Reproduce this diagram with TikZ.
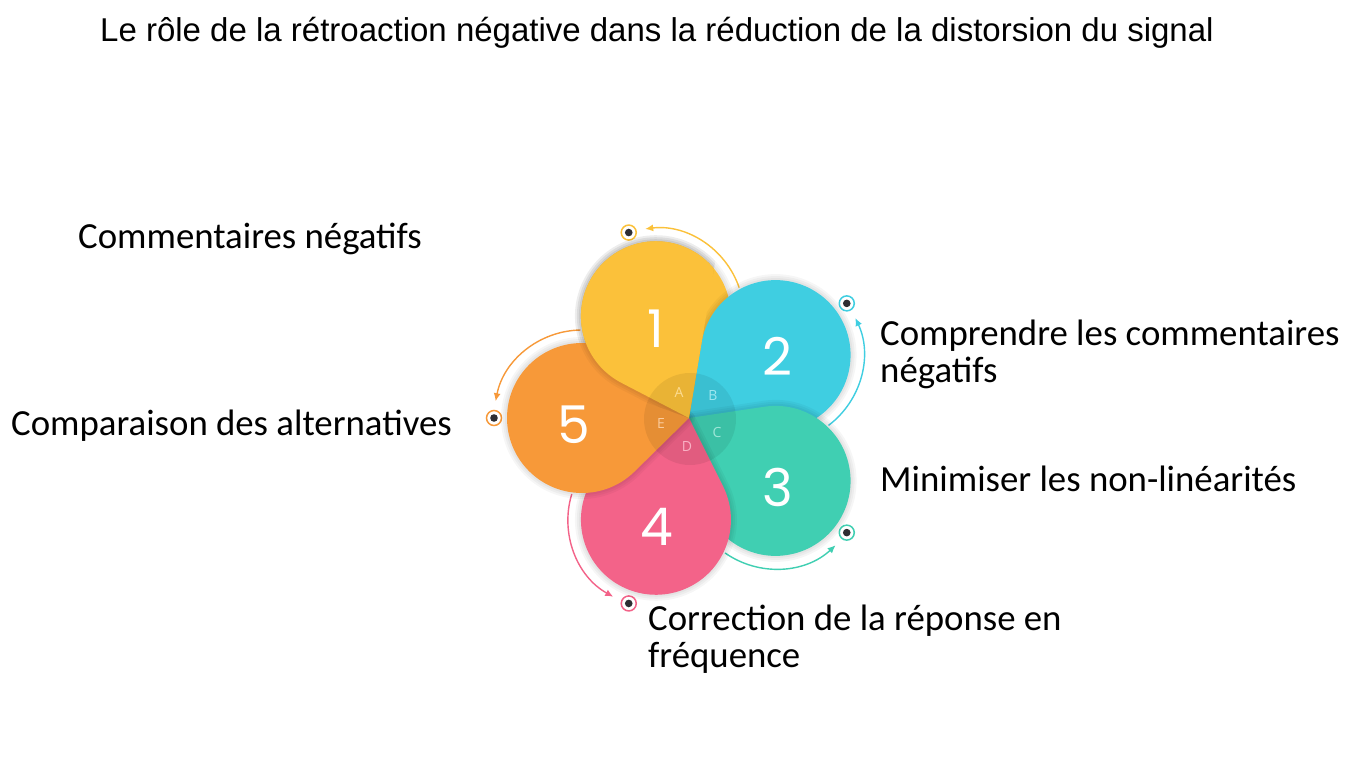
\documentclass[tikz,border=0pt]{standalone}
\usepackage{fontspec}
\setmainfont{Carlito}
\newfontfamily\titlefont{Liberation Sans}
\newfontfamily\numfont{Poppins}
\newfontfamily\letfont{Open Sans}
\usetikzlibrary{calc,arrows.meta}
\definecolor{cA}{RGB}{251,193,58}
\definecolor{cB}{RGB}{63,206,225}
\definecolor{cC}{RGB}{64,207,178}
\definecolor{cD}{RGB}{243,99,137}
\definecolor{cE}{RGB}{247,153,57}
\definecolor{dotdark}{RGB}{45,45,50}
\tikzset{
  lab/.style={anchor=base west, inner sep=0pt, font=\fontsize{36.8}{37}\selectfont, text=black},
  num/.style={font=\numfont\fontsize{52}{52}\selectfont, text=white, inner sep=0pt},
  let/.style={font=\letfont\fontsize{14}{14}\selectfont, inner sep=0pt},
  ring/.style={circle, draw=#1, line width=1.5pt, fill=white, minimum size=15pt, inner sep=0pt},
  arcarrow/.style={draw=#1, line width=1.4pt, -{Latex[length=8pt,width=7pt]}},
  halo/.style={draw=black, draw opacity=0.035, line width=#1, line join=round}
}
% #1 angle, #2 petal centre, #3 colour
\newcommand\petalpathdef[2]{(C) -- ($(#2)+({#1+180-45.5}:75pt)$)
    arc[start angle={#1+180-45.5}, end angle={#1-180+45.5}, radius=75pt] -- cycle}
\newcommand\petalshape[3]{%
  \path[halo=12pt, yshift=-1pt] (C) -- ($(#2)+({#1+180-45.5}:75pt)$)
    arc[start angle={#1+180-45.5}, end angle={#1-180+45.5}, radius=75pt] -- cycle;
  \path[halo=8pt, yshift=-1pt] (C) -- ($(#2)+({#1+180-45.5}:75pt)$)
    arc[start angle={#1+180-45.5}, end angle={#1-180+45.5}, radius=75pt] -- cycle;
  \path[halo=4pt, yshift=-1pt] (C) -- ($(#2)+({#1+180-45.5}:75pt)$)
    arc[start angle={#1+180-45.5}, end angle={#1-180+45.5}, radius=75pt] -- cycle;
  \fill[#3] (C) -- ($(#2)+({#1+180-45.5}:75pt)$)
    arc[start angle={#1+180-45.5}, end angle={#1-180+45.5}, radius=75pt] -- cycle;}
\newcommand\petalarc[4]{% #1 angle, #2 centre, #3 colour, #4 name
  \node[ring=#3] (#4) at ($(#2)+(#1:88pt)$) {};
  \fill[dotdark] (#4.center) circle[radius=3.8pt];
  \draw[arcarrow=#3] ($(#2)+({#1-89}:88pt)$) arc[start angle={#1-89}, end angle={#1-11}, radius=88pt];}
\begin{document}
\begin{tikzpicture}[x=1pt,y=1pt]
\useasboundingbox (0,0) rectangle (1359,-759);
\fill[white] (0,0) rectangle (1359,-759);

\coordinate (C) at (689,-418);
\coordinate (P1) at ($(C)+(108:107pt)$);
\coordinate (P2) at ($(C)+(36:107pt)$);
\coordinate (P3) at ($(C)+(-36:107pt)$);
\coordinate (P4) at ($(C)+(-108:107pt)$);
\coordinate (P5) at ($(C)+(180:107pt)$);

% arcs and target dots
\petalarc{108}{P1}{cA}{d1}
\petalarc{36}{P2}{cB}{d2}
\petalarc{-36}{P3}{cC}{d3}
\petalarc{-108}{P4}{cD}{d4}
\petalarc{180}{P5}{cE}{d5}

% petals (pinwheel overlap)
\petalshape{108}{P1}{cA}
\petalshape{36}{P2}{cB}
\petalshape{-36}{P3}{cC}
\petalshape{-108}{P4}{cD}
\petalshape{180}{P5}{cE}
\begin{scope}
  \clip (C) -- ($(C)+(80.5:400pt)$) -- ($(C)+(160:400pt)$) -- cycle;
  \petalshape{108}{P1}{cA}
\end{scope}

% centre disc
\fill[black, opacity=0.07] (690,-419) circle[radius=46pt];

% letters
\node[let, text=cA!55!white] (lA) at (679,-392) {A};
\node[let, text=cB!50!white] (lB) at (713,-396) {B};
\node[let, text=cC!50!white] (lC) at (717,-432) {C};
\node[let, text=cD!50!white] (lD) at (687,-447) {D};
\node[let, text=cE!50!white] (lE) at (661,-424) {E};

% numbers
\node[num] (n1) at (656,-329) {1};
\node[num] (n2) at (777,-356) {2};
\node[num] (n3) at (778,-487) {3};
\node[num] (n4) at (657,-527) {4};
\node[num] (n5) at (574,-425) {5};

% title
\node[anchor=base west, inner sep=0pt, font=\titlefont\fontsize{33}{38}\selectfont] (title) at (100,-41.5)
  {Le rôle de la rétroaction négative dans la réduction de la distorsion du signal};

% labels
\node[lab] (t1) at (78,-248) {Commentaires négatifs};
\node[lab] (t2) at (880,-345) {\begin{tabular}[t]{@{}l@{}}Comprendre les commentaires\\négatifs\end{tabular}};
\node[lab] (t3) at (880,-491) {Minimiser les non-linéarités};
\node[lab] (t4) at (648,-630) {\begin{tabular}[t]{@{}l@{}}Correction de la réponse en\\fréquence\end{tabular}};
\node[lab] (t5) at (11,-435) {Comparaison des alternatives};
\end{tikzpicture}
\end{document}
